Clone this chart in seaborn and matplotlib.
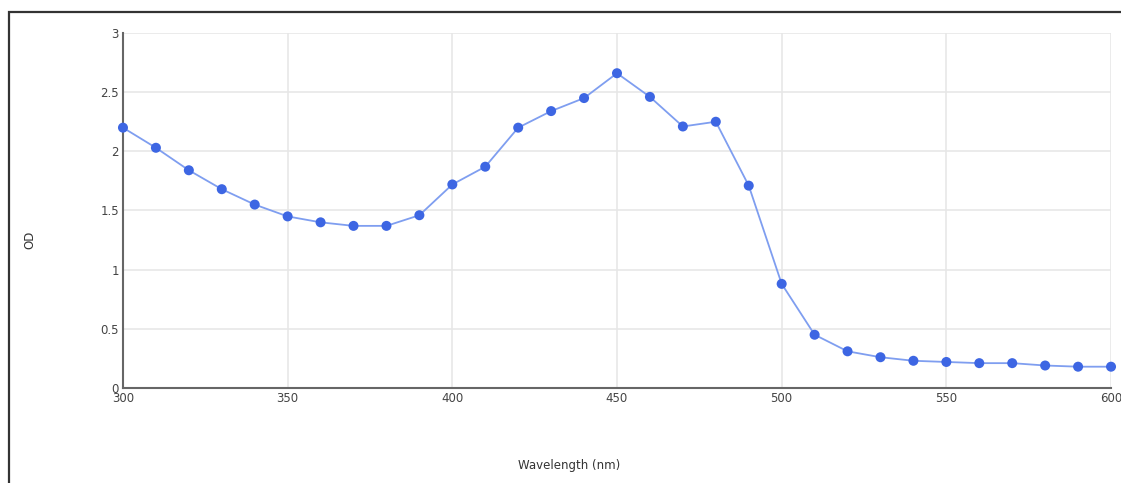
import matplotlib
matplotlib.use("Agg")
import matplotlib.pyplot as plt
import seaborn as sns
import pandas as pd
from matplotlib.patches import Rectangle

wavelength = [300, 310, 320, 330, 340, 350, 360, 370, 380, 390, 400, 410, 420, 430, 440, 450,
              460, 470, 480, 490, 500, 510, 520, 530, 540, 550, 560, 570, 580, 590, 600]
od = [2.20, 2.03, 1.84, 1.68, 1.55, 1.45, 1.40, 1.37, 1.37, 1.46, 1.72, 1.87, 2.20, 2.34, 2.45, 2.66,
      2.46, 2.21, 2.25, 1.71, 0.88, 0.45, 0.31, 0.26, 0.23, 0.22, 0.21, 0.21, 0.19, 0.18, 0.18]
x_ticks = [300, 350, 400, 450, 500, 550, 600]
y_ticks = [0, 0.5, 1, 1.5, 2, 2.5, 3]
y_tick_labels = ["0", "0.5", "1", "1.5", "2", "2.5", "3"]

df = pd.DataFrame({"Wavelength": wavelength, "OD": od})

sns.set_style("white")
plt.rcParams['font.family'] = ['DejaVu Sans']

fig = plt.figure(figsize=(11.21, 4.83), dpi=100)
ax = fig.add_axes([0.1097, 0.1967, 0.8814, 0.735])

sns.lineplot(data=df, x="Wavelength", y="OD", ax=ax, color="#7f9ef0", linewidth=1.3)
sns.scatterplot(data=df, x="Wavelength", y="OD", ax=ax, color="#3d66e3", s=52,
                edgecolor="none", clip_on=False, zorder=5)

ax.set_xlim(300, 600)
ax.set_ylim(0, 3)
ax.set_xticks(x_ticks)
ax.set_yticks(y_ticks)
ax.set_yticklabels(y_tick_labels)
ax.grid(True, color="#e6e6e6", linewidth=1.1)
ax.set_axisbelow(True)
for s in ["top", "right"]:
    ax.spines[s].set_visible(False)
for s in ["left", "bottom"]:
    ax.spines[s].set_color("#666666")
    ax.spines[s].set_linewidth(1.5)
ax.tick_params(length=0, labelsize=8.5, colors="#444444", pad=3)
ax.set_xlabel("")
ax.set_ylabel("")

fig.text(569 / 1121, 1 - 465 / 483, "Wavelength (nm)", ha="center", va="center",
         fontsize=8.5, color="#333333")
fig.text(30 / 1121, 1 - 240 / 483, "OD", ha="center", va="center", rotation=90,
         fontsize=8.5, color="#333333")

# outer frame
fig.add_artist(Rectangle((8.5 / 1121, -0.1), 1.1, 1.1 - 12.5 / 483, transform=fig.transFigure,
                         fill=False, edgecolor="#333333", linewidth=1.6))

fig.savefig("out.png", dpi=100)
